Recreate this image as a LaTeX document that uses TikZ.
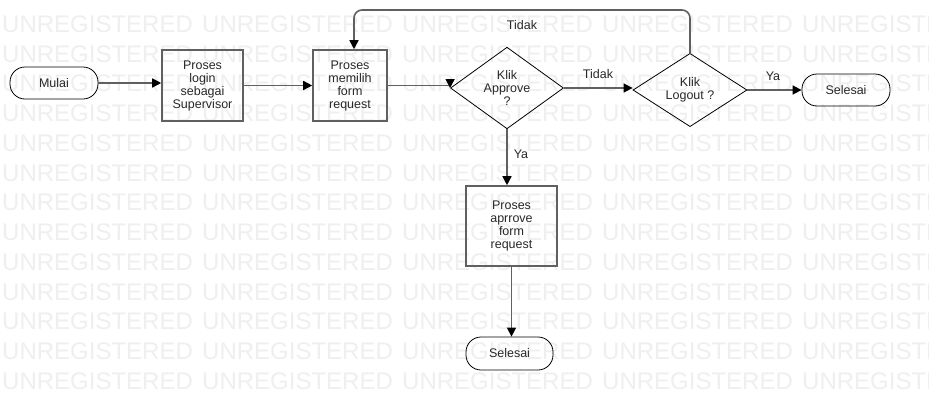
\documentclass[tikz,border=0pt]{standalone}
\usepackage{fontspec}
\setmainfont{Liberation Sans}
\usepackage{tikz}
\usetikzlibrary{arrows.meta,shapes.geometric}
\definecolor{wmgray}{RGB}{239,239,239}
\definecolor{linegray}{RGB}{96,96,96}
\definecolor{textgray}{RGB}{40,40,40}

\begin{document}
\begin{tikzpicture}[x=1pt,y=-1pt]
\tikzset{process/.style = {shape=rectangle,draw=linegray,line width=1.6pt,inner sep=0pt,align=center}}
\tikzset{terminal/.style = {shape=rectangle,rounded corners=15pt,draw=black,line width=0.8pt,minimum width=88pt,minimum height=32pt}}
\tikzset{decision/.style = {shape=diamond,draw=black,line width=0.8pt,inner sep=0pt,align=center}}
\tikzset{edge/.style = {draw=linegray,line width=1.6pt,-{Triangle[length=9pt,width=9pt,color=black]}}}
\tikzset{label/.style = {inner sep=1pt}}
\tikzset{every node/.style = {text=textgray,font=\fontsize{12.5}{13}\selectfont}}
\useasboundingbox (0,0) rectangle (929,410);
\fill[white] (0,0) rectangle (929,410);

\begin{scope}
\clip (0,0) rectangle (929,410);
\foreach \row in {0,...,12}
  \foreach \col in {0,...,4}
    \node[anchor=west,inner sep=0pt,text=wmgray,font=\fontsize{24}{24}\selectfont]
      (wm\row-\col) at (2+200*\col,24+29.75*\row) {UNREGISTERED};
\end{scope}

\node[terminal] (mulai) at (54,83) {Mulai};
\node[process,minimum width=81pt,minimum height=71pt] (login) at (202.5,85.5) {Proses\\login\\sebagai\\Supervisor};
\node[process,minimum width=74pt,minimum height=71pt] (memilih) at (350,85.5) {Proses\\memilih\\form\\request};
\node[decision,minimum width=113pt,minimum height=77pt] (approve) at (507,88) {Klik\\Approve\\?};
\node[decision,minimum width=114pt,minimum height=51pt] (logout) at (690,90) {Klik\\Logout ?};
\node[terminal] (selesaiA) at (846,90) {Selesai};
\node[process,minimum width=91pt,minimum height=80pt] (aprrove) at (511.5,226) {Proses\\aprrove\\form\\request};
\node[terminal,minimum width=87pt,minimum height=33pt] (selesaiB) at (509.5,353.5) {Selesai};

\coordinate (loopR) at (690,10);
\coordinate (loopL) at (354,10);

\draw[edge] (mulai.east) to (mulai.east -| login.west);
\draw[edge] (login) to (memilih);
\draw[edge] (memilih.east) to (memilih.east -| approve.west) -- (approve.west);
\draw[edge] (approve.east) to (approve.east -| logout.west);
\draw[edge] (logout.east) to (selesaiA.west);
\draw[edge,rounded corners=8pt] (logout.north) -- (loopR) -- (loopL) -- (loopL |- memilih.north);
\draw[edge] (approve.south) to (approve.south |- aprrove.north);
\draw[edge] (aprrove.south) to (aprrove.south |- selesaiB.north);

\node[label] (tidakA) at (598,74) {Tidak};
\node[label] (tidakB) at (522,25) {Tidak};
\node[label] (yaA) at (773,76) {Ya};
\node[label] (yaB) at (521,154) {Ya};
\end{tikzpicture}
\end{document}
